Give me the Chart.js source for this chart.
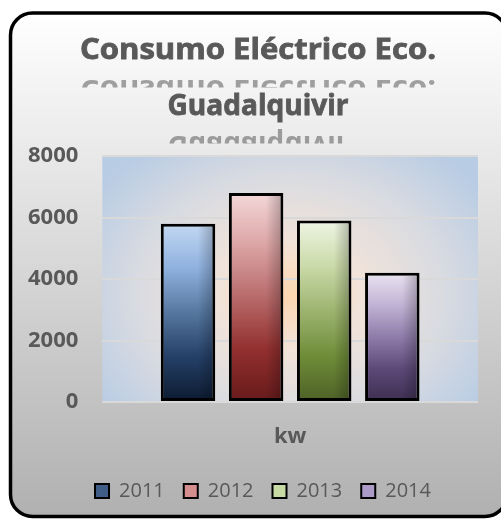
<!DOCTYPE html>
<html><head><meta charset="utf-8">
<script src="https://cdn.jsdelivr.net/npm/chart.js@4"></script>
<style>html,body{margin:0;padding:0;background:#fff;overflow:hidden}#wrap{width:501px;height:521px;position:relative}</style>
</head><body><div id="wrap"><canvas id="c" width="501" height="521"></canvas></div>
<script>
const categories = ['kw'];
const seriesNames = ['2011', '2012', '2013', '2014'];
const values2011 = [5800];
const values2012 = [6800];
const values2013 = [5900];
const values2014 = [4200];
const yTicks = [0, 2000, 4000, 6000, 8000];
const titleLines = ['Consumo Eléctrico Eco.', 'Guadalquivir'];

const seriesValues = [values2011, values2012, values2013, values2014];
const barStops = [
  ['#c3d8f3', '#8fb1de', '#55779f', '#243f66', '#0c1a30'],
  ['#f3d8d9', '#dca4a5', '#b86a6a', '#922f2f', '#661a1a'],
  ['#eff5e4', '#cadaa9', '#9cb36f', '#6e8c38', '#4d6026'],
  ['#e9e3f1', '#c1b3d4', '#8e7ba9', '#5c4877', '#3c2e50']
];
const legendFill = ['#3f5d86', '#d58e8e', '#c7daa3', '#ab9bc6'];
const TXT = '#595959';

function barGradient(ctx, i) {
  const chart = ctx.chart;
  const ys = chart.scales && chart.scales.y;
  if (!ys || ctx.raw === undefined) return barStops[i][2];
  const top = ys.getPixelForValue(ctx.raw);
  const bot = ys.getPixelForValue(0);
  const g = chart.ctx.createLinearGradient(0, top, 0, bot);
  const s = barStops[i];
  s.forEach((c, k) => g.addColorStop(k / (s.length - 1), c));
  return g;
}

function framePath(ctx, L, T, R, B, r) {
  ctx.beginPath();
  ctx.moveTo(L + r, T);
  ctx.lineTo(R - r, T);
  ctx.arcTo(R, T, R, T + r, r);
  ctx.lineTo(R, B - r);
  ctx.arcTo(R, B, R - r, B, r);
  ctx.lineTo(L + r, B);
  ctx.arcTo(L, B, L, B - r, r);
  ctx.lineTo(L, T + r);
  ctx.arcTo(L, T, L + r, T, r);
  ctx.closePath();
}

const framePlugin = {
  id: 'frame',
  afterLayout(chart) {
    if (chart.legend) { chart.legend.left += 22; chart.legend.right += 22; }
  },
  beforeDraw(chart) {
    const ctx = chart.ctx;
    ctx.save();
    const L = 10.5, T = 13, R = 507, B = 516.5, r = 22;
    const g = ctx.createLinearGradient(0, T, 0, B);
    g.addColorStop(0, '#ffffff');
    g.addColorStop(1, '#b0b0b0');
    framePath(ctx, L, T, R, B, r);
    ctx.fillStyle = g;
    ctx.fill();
    ctx.lineWidth = 3.5;
    ctx.strokeStyle = '#000';
    ctx.stroke();

    // title with reflection
    const cx = 258;
    const baselines = [59, 115];
    const targetW = [356, 181];
    ctx.font = 'bold 28px "Open Sans"';
    titleLines.forEach((t, k) => {
      const mw = ctx.measureText(t).width;
      let sx = targetW[k] / mw;
      sx = Math.max(0.75, Math.min(1.25, sx));
      const b = baselines[k];
      ctx.save();
      ctx.translate(cx, b);
      ctx.scale(sx, 1);
      ctx.textAlign = 'center';
      ctx.textBaseline = 'alphabetic';
      ctx.fillStyle = TXT;
      ctx.strokeStyle = TXT;
      ctx.lineWidth = 0.8;
      ctx.fillText(t, 0, 0);
      ctx.strokeText(t, 0, 0);
      ctx.restore();
      // reflection
      const axis = b + 10.5;
      ctx.save();
      ctx.beginPath();
      ctx.rect(0, axis, 501, 18);
      ctx.clip();
      const rg = ctx.createLinearGradient(0, axis, 0, axis + 18);
      rg.addColorStop(0, 'rgba(89,89,89,0.55)');
      rg.addColorStop(0.55, 'rgba(89,89,89,0.4)');
      rg.addColorStop(1, 'rgba(89,89,89,0.1)');
      ctx.translate(cx, axis * 2 - b);
      ctx.scale(sx, -1);
      ctx.textAlign = 'center';
      ctx.textBaseline = 'alphabetic';
      ctx.fillStyle = rg;
      ctx.fillText(t, 0, 0);
      ctx.restore();
    });

    // plot area background
    const ca = chart.chartArea;
    ctx.save();
    ctx.beginPath();
    ctx.rect(ca.left, ca.top, ca.right - ca.left, ca.bottom - ca.top);
    ctx.clip();
    const pcx = (ca.left + ca.right) / 2, pcy = 295;
    const rx = 235, ry = 185;
    ctx.translate(pcx, pcy);
    ctx.scale(1, ry / rx);
    const rad = ctx.createRadialGradient(0, 0, 0, 0, 0, rx);
    rad.addColorStop(0, '#fcd6b0');
    rad.addColorStop(0.3, '#f1e3d9');
    rad.addColorStop(0.65, '#d9dbe1');
    rad.addColorStop(1, '#b8cce4');
    ctx.fillStyle = rad;
    ctx.fillRect(-400, -600, 800, 1200);
    ctx.restore();
    ctx.restore();
  }
};

const shadePlugin = {
  id: 'shade',
  afterDatasetsDraw(chart) {
    const ctx = chart.ctx;
    ctx.save();
    chart.data.datasets.forEach((ds, i) => {
      const meta = chart.getDatasetMeta(i);
      meta.data.forEach(el => {
        const p = el.getProps(['x', 'y', 'base', 'width'], true);
        const l = p.x - p.width / 2 + 3, r = p.x + p.width / 2 - 3;
        const t = Math.min(p.y, p.base) + 3, b = Math.max(p.y, p.base) - 3;
        const g = ctx.createLinearGradient(l, 0, r, 0);
        g.addColorStop(0, 'rgba(0,0,0,0)');
        g.addColorStop(0.7, 'rgba(0,0,0,0)');
        g.addColorStop(1, 'rgba(0,0,0,0.22)');
        ctx.fillStyle = g;
        ctx.fillRect(l, t, r - l, b - t);
      });
    });
    ctx.restore();
  }
};

new Chart(document.getElementById('c'), {
  type: 'bar',
  data: {
    labels: categories,
    datasets: seriesNames.map((n, i) => ({
      label: n,
      data: seriesValues[i],
      backgroundColor: (ctx) => barGradient(ctx, i),
      borderColor: '#000',
      borderWidth: 3,
      borderSkipped: false,
      categoryPercentage: 0.725,
      barPercentage: 0.8
    }))
  },
  options: {
    responsive: false,
    animation: false,
    devicePixelRatio: 1,
    layout: { padding: { top: 156, left: 4, right: 23, bottom: 10 } },
    plugins: {
      title: { display: false },
      tooltip: { enabled: false },
      legend: {
        position: 'bottom',
        labels: {
          boxWidth: 14, boxHeight: 14, padding: 19,
          color: TXT,
          font: { family: '"Open Sans"', size: 20 },
          generateLabels: () => seriesNames.map((n, i) => ({
            text: n, fillStyle: legendFill[i], strokeStyle: '#000', lineWidth: 2,
            hidden: false, datasetIndex: i, fontColor: TXT
          }))
        }
      }
    },
    scales: {
      x: {
        grid: { display: false, drawTicks: false },
        border: { display: false },
        ticks: { color: TXT, padding: 22, font: { family: '"Open Sans"', size: 22, weight: 'bold' } },
        afterFit: (s) => { s.height = 60; }
      },
      y: {
        min: 0, max: 8000,
        afterBuildTicks: (s) => { s.ticks = yTicks.map(v => ({ value: v })); },
        grid: { color: '#d9d9d9', lineWidth: 2, drawTicks: false },
        border: { display: false },
        ticks: { color: TXT, padding: 24, callback: (v) => String(v), font: { family: '"Open Sans"', size: 22, weight: 'bold' } }
      }
    }
  },
  plugins: [framePlugin, shadePlugin]
});
</script>
</body></html>
